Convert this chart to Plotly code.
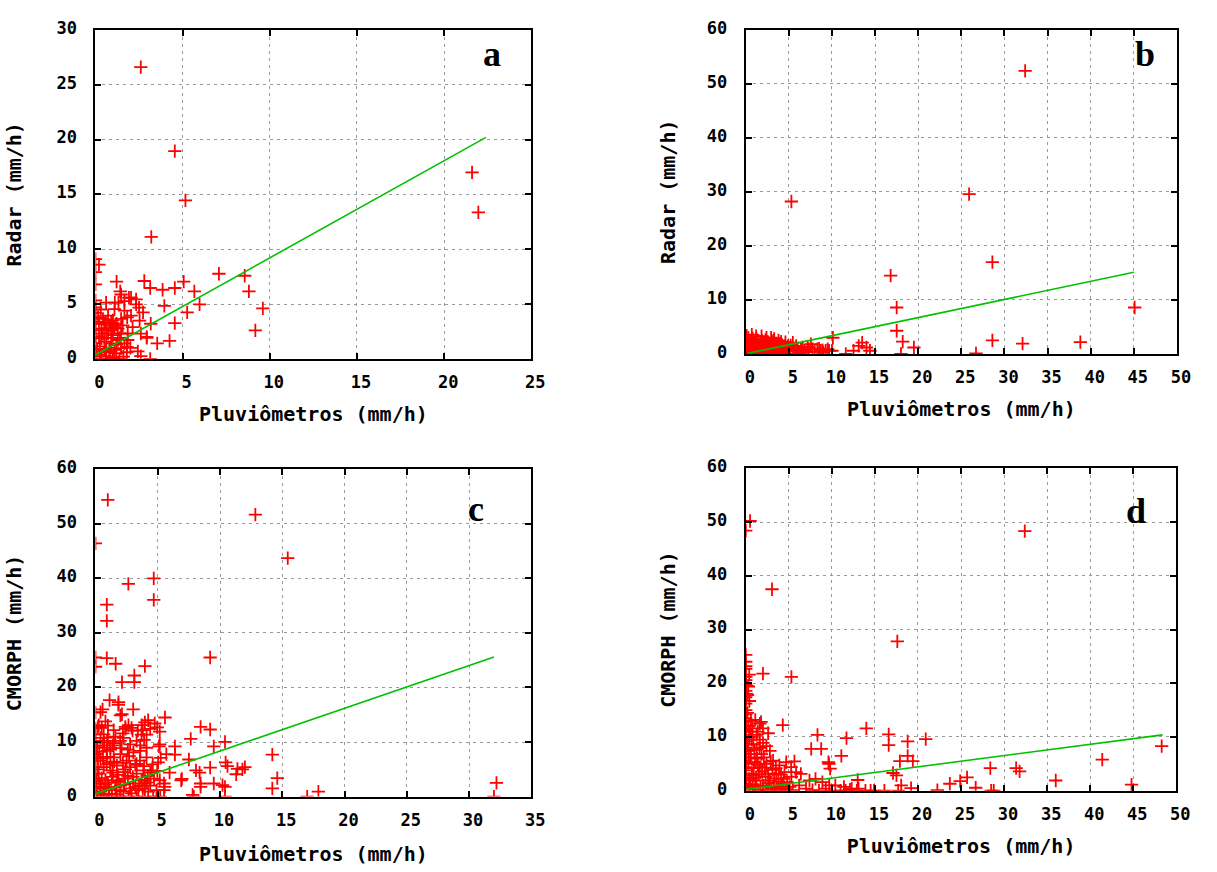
import plotly.graph_objects as go

# ---------------- data ----------------
# Panel a: Radar vs gauges
A_X = [2.6, 4.55, 5.16, 3.2, 21.6, 21.96, 0.2, 0.0, 7.08, 8.56, 8.8, 9.6, 9.17, 2.8, 3.14, 3.85, 4.55, 5.06,
       5.67, 5.97, 5.26, 3.95, 4.55, 4.25, 3.54, 2.94, 2.43, 3.14, 1.21, 1.42, 1.92, 2.33, 1.32, 0.61, 1.11,
       2.73, 2.33, 1.82, 2.53, 2.94,
       0.0, 0.0, 0.0, 0.0, 0.0, 0.0, 1.47, 1.66, 2.04, 2.5, 3.17, 2.6, 2.6, 1.09, 1.66, 2.04, 1.47, 1.0,
       0.81, 1.09, 1.28, 0.62, 0.34, 0.72, 1.0, 1.47, 1.85, 0.34, 0.62, 0.9, 1.28, 1.66, 0.25, 0.53, 0.81,
       1.09, 1.47, 0.25, 0.62, 1.0, 1.38, 0.34, 0.81, 1.09, 0.0, 0.0, 0.15, 0.43, 0.72, 1.85, 2.13, 1.56,
       0.0, 0.3, 0.5, 0.9, 1.2, 0.2, 0.5, 0.8, 1.2, 0.1, 1.8, 1.6, 2.0,
       0.0, 0.0, 0.0, 0.3, 0.6, 1.2, 1.8, 0.4, 1.4, 0.9, 0.2, 0.6]
A_Y = [26.6, 18.95, 14.45, 11.13, 17.0, 13.36, 8.6, 9.1, 7.76, 7.58, 6.16, 4.6, 2.6, 7.1, 6.46, 6.3, 6.46, 7.05,
       6.16, 4.97, 4.23, 4.83, 3.26, 1.63, 1.42, 1.92, 0.68, 0.0, 7.05, 6.16, 5.57, 5.42, 5.12, 5.12, 5.12,
       4.23, 4.97, 3.79, 3.49, 2.01,
       6.8, 5.33, 3.2, 2.76, 2.07, 1.42, 5.87, 5.27, 5.57, 4.68, 3.2, 2.3, 0.24, 4.53, 4.39, 3.94, 3.64, 3.5,
       3.05, 2.9, 2.76, 2.76, 2.61, 2.31, 2.16, 2.31, 2.31, 1.87, 1.57, 1.42, 1.72, 1.42, 1.13, 0.83, 0.68,
       0.83, 0.98, 0.39, 0.24, 0.1, 0.0, 0.0, 0.0, 0.0, 0.68, 0.4, 3.8, 3.64, 3.94, 1.72, 2.9, 3.05,
       4.2, 4.5, 3.2, 3.3, 3.2, 2.0, 1.9, 1.0, 1.3, 0.9, 0.6, 0.2, 1.0,
       7.9, 4.7, 3.7, 0.2, 0.6, 0.5, 1.1, 2.3, 1.9, 2.6, 3.4, 3.3]

# Panel b: Radar vs gauges
B_X = [32.4, 5.29, 25.9, 28.6, 16.8, 17.5, 17.5, 18.2, 18.0, 19.5, 10.1, 26.7, 28.6, 32.1, 38.8, 45.1,
       11.6, 12.5, 13.1, 13.5, 14.0, 14.4,
       0.3, 1.26, 2.4, 3.17, 1.45, 0.1, 2.8, 3.55, 4.3, 5.46, 5.84, 6.6, 7.18, 7.75, 8.3, 8.9, 9.27, 9.66,
       7.0, 6.2, 5.1, 3.9, 2.0, 0.9, 0.5, 1.64, 2.8, 3.74, 4.5, 5.65, 0.0, 0.0, 0.0, 2.4, 1.07, 1.83, 0.7,
       2.94, 3.93, 4.9, 7.56, 8.7, 10.0, 0.0, 1.0, 2.2, 3.4, 4.8, 6.0, 0.6, 1.9, 4.6, 3.0, 6.4, 5.0,
       0.2, 0.4, 0.6, 0.8, 1.1, 1.3, 1.5, 1.7, 1.9, 2.1, 2.3, 2.5, 2.7, 3.1, 3.3, 3.6, 3.8, 4.0, 4.2, 4.4,
       4.7, 5.2, 5.5, 6.0, 6.8, 7.3, 8.0, 8.5, 9.0, 9.5, 0.3, 0.8, 1.2, 2.0, 2.6, 3.3, 0.1, 1.6, 0.5, 4.1]
B_Y = [52.35, 28.2, 29.55, 17.0, 14.5, 8.6, 4.3, 2.3, 0.0, 1.2, 3.0, 0.1, 2.5, 1.9, 2.2, 8.6,
       0.0, 0.6, 1.5, 2.1, 1.2, 0.6,
       3.0, 2.7, 3.0, 2.4, 1.5, 1.2, 1.5, 1.8, 1.2, 2.1, 1.5, 1.2, 1.3, 0.9, 0.9, 0.7, 0.6, 0.6,
       0.3, 0.3, 0.6, 0.5, 0.6, 0.9, 0.3, 0.3, 0.3, 0.9, 0.3, 0.9, 0.6, 1.5, 2.7, 1.8, 2.1, 3.3, 3.6,
       3.0, 1.9, 1.5, 1.8, 0.6, 0.6, 2.4, 0.0, 0.0, 0.0, 0.0, 0.0, 1.9, 2.4, 2.2, 1.0, 0.8, 1.1,
       0.2, 1.0, 2.2, 0.5, 1.3, 0.4, 2.4, 0.9, 1.6, 0.2, 2.6, 1.1, 0.7, 1.9, 0.6, 1.3, 2.5, 0.8, 1.7, 0.4,
       1.0, 1.6, 0.5, 1.0, 0.6, 0.9, 0.4, 1.0, 0.3, 0.9, 2.0, 2.9, 3.3, 2.0, 2.2, 2.8, 3.4, 1.1, 1.5, 2.3]

# Panel c: CMORPH vs gauges
C_X = [0.99, 12.84, 15.44, 0.0, 2.64, 4.68, 4.68, 0.91, 0.91, 9.21, 0.91, 1.62, 0.0, 0.0, 3.97, 3.12, 3.12,
       2.13, 1.13, 1.84, 2.13, 3.03, 0.0, 0.57, 5.58, 3.97, 4.39, 4.96, 2.41, 2.98, 3.4, 8.44, 9.21, 7.65,
       10.4, 9.5, 5.1, 6.38, 6.38, 5.24, 7.5, 8.36, 9.21, 10.6, 11.3, 11.8, 12.0, 14.2, 14.6, 14.2, 17.9,
       17.0, 32.2, 32.0, 7.9, 8.44, 8.44, 9.5, 10.2, 10.4, 10.4, 6.94, 5.5, 5.5, 4.96, 5.95, 3.97, 3.97,
       1.85, 2.0, 0.4, 0.0, 0.26, 0.66, 1.46, 2.65, 3.7, 4.23, 4.76, 5.16, 3.7, 1.98, 2.78, 4.1, 5.16, 1.19,
       8.07, 10.45, 11.4, 6.88, 5.56, 4.5, 5.16, 7.8,
       0.13, 0.13, 0.4, 0.93, 1.46, 2.0, 2.5, 3.04, 3.57, 4.1, 0.66, 1.19, 1.72, 2.25, 2.78, 3.3, 3.84,
       0.26, 0.8, 1.32, 1.85, 2.38, 3.04, 3.7, 0.4, 1.06, 1.59, 2.25, 2.78, 3.44, 4.23, 4.9, 0.13, 0.66,
       1.32, 1.98, 2.65, 3.3, 3.97, 4.63, 0.0, 0.0, 0.0, 0.0, 0.0, 0.0, 0.0, 0.0, 0.0, 0.0, 0.4, 0.93,
       2.25, 3.3, 4.1, 5.03, 5.69, 0.5, 1.0, 1.6, 2.6, 3.6, 1.2, 0.3, 2.0, 4.4, 1.7, 0.9, 3.2, 4.6, 0.2,
       0.7, 2.2, 3.9, 5.2, 0.5, 2.4, 1.4, 0.8, 2.9, 3.8,
       0.3, 0.6, 0.9, 1.2, 1.5, 1.8, 2.1, 2.4, 2.7, 3.0, 3.3, 3.6, 3.9, 4.2, 0.2, 0.5, 0.8, 1.1, 1.4, 1.7,
       2.0, 2.3, 2.6, 2.9, 3.2, 3.5, 3.8, 4.1, 4.4, 4.7, 0.4, 0.7, 1.0, 1.3, 0.1, 0.2, 0.6, 1.0, 1.5, 2.2]
C_Y = [54.4, 51.7, 43.7, 46.4, 39.0, 40.0, 36.05, 35.2, 32.2, 25.5, 25.4, 24.35, 25.5, 23.8, 23.9, 22.2, 21.0,
       21.0, 17.7, 16.8, 15.1, 16.0, 15.4, 16.0, 14.5, 13.6, 12.4, 12.7, 12.4, 12.1, 12.1, 12.8, 12.3, 10.6,
       10.05, 9.2, 9.2, 9.2, 7.7, 7.1, 6.8, 4.4, 5.3, 5.6, 4.1, 5.0, 5.4, 7.7, 3.4, 1.5, 0.9,
       0.0, 2.5, 0.0, 0.0, 2.4, 1.8, 2.4, 2.1, 1.8, 0.0, 3.25, 2.4, 1.2, 4.7, 4.4, 2.4, 3.0,
       17.3, 14.9, 15.5, 12.5, 13.1, 11.4, 12.2, 13.1, 13.1, 14.0, 13.4, 11.9, 11.35, 10.2, 9.56, 8.96, 9.56,
       8.96, 4.8, 6.27, 5.1, 3.0, 1.8, 4.8, 3.0, 0.3,
       9.0, 7.8, 6.6, 8.4, 7.2, 7.8, 6.6, 8.1, 6.6, 7.2, 5.4, 4.8, 5.7, 4.5, 5.4, 4.2, 4.8,
       4.2, 3.0, 3.6, 2.7, 3.3, 2.4, 3.0, 1.8, 1.2, 1.8, 0.9, 1.5, 1.2, 0.9, 1.2, 0.6, 0.3,
       0.0, 0.0, 0.0, 0.0, 0.0, 0.0, 11.4, 10.2, 9.0, 7.8, 6.6, 5.4, 4.2, 3.0, 1.8, 0.6, 10.75, 10.2,
       10.75, 10.2, 11.35, 6.27, 7.77, 12.6, 13.0, 11.0, 8.6, 9.4, 6.2, 2.4, 2.0, 2.0, 0.4, 7.3, 5.8, 5.9, 12.8,
       9.9, 6.2, 10.4, 0.0, 0.0, 12.8, 9.4, 13.8, 12.6, 12.2,
       8.2, 7.0, 5.9, 8.6, 6.4, 4.0, 8.9, 5.0, 7.4, 3.6, 6.0, 8.4, 5.6, 3.8, 5.0, 3.4, 2.2, 1.6, 4.4, 3.0,
       1.2, 2.2, 3.8, 0.6, 1.8, 2.0, 1.4, 2.6, 4.4, 3.3, 0.9, 1.5, 2.5, 0.5, 2.8, 7.1, 9.4, 10.8, 9.8, 11.6]

# Panel d: CMORPH vs gauges
D_X = [32.4, 0.5, 0.0, 3.05, 17.6, 2.0, 5.3, 0.0, 0.0, 0.0, 0.0, 0.3, 0.42, 4.3, 1.78, 14.0, 8.33, 11.7,
       16.6, 16.6, 18.8, 20.9, 18.8, 17.9, 19.4, 17.1, 17.5, 18.05, 19.2, 16.1, 17.7, 22.25, 23.7, 24.9,
       25.7, 26.7, 28.5, 28.8, 28.4, 31.4, 31.8, 36.0, 41.4, 44.8, 48.3, 11.1, 9.6, 9.8, 7.6, 8.76, 13.0,
       14.5, 14.9,
       0.1, 0.1, 0.0, 0.0, 0.0, 0.0, 1.64, 2.0, 2.6, 1.26, 1.64, 2.0, 2.4, 2.8, 1.83, 0.88, 1.26, 0.5,
       1.07, 1.64, 2.4, 3.17, 3.9, 4.7, 5.27, 5.84, 4.5, 3.55, 5.65, 9.66, 6.4, 7.4, 8.1, 8.9, 9.7, 10.4,
       11.4, 12.3, 13.1, 6.2, 7.0, 7.75, 8.5, 9.3, 10.0, 11.0, 11.6, 12.1, 12.9, 13.9, 0.0, 0.0, 0.0, 0.0,
       0.0, 0.7, 1.26, 2.0, 2.8, 3.55, 4.3, 5.1, 0.5, 1.45, 2.4, 3.9, 5.46, 0.0, 0.0, 0.0, 0.0, 0.4, 0.8,
       0.3, 0.9, 0.4, 1.5, 2.3, 3.1, 1.1, 3.0, 4.6, 0.2, 0.6, 1.2,
       0.0, 0.0, 0.0, 0.0, 0.0, 0.0, 0.0, 0.0, 0.0, 0.0, 0.0, 0.0, 0.0, 0.0, 0.2, 0.3, 0.6, 0.7, 0.9, 1.0,
       1.3, 1.4, 1.6, 1.9, 2.1, 2.2, 2.6, 2.9, 3.3, 3.5, 3.8, 4.1, 4.4, 4.8, 5.3, 0.3, 0.8, 1.7, 2.6, 3.3,
       4.1, 0.5, 1.1, 0.3, 1.4, 0.2, 0.4]
D_Y = [48.3, 50.2, 48.4, 37.5, 27.8, 21.8, 21.2, 25.3, 22.7, 21.2, 20.6, 19.4, 16.7, 12.2, 12.8, 11.6, 10.4, 9.8,
       10.5, 8.5, 9.2, 9.6, 6.5, 5.5, 5.5, 3.3, 2.85, 1.0, 0.5, 0.0, 0.0, 0.1, 1.3, 1.8,
       2.5, 0.55, 0.0, 0.0, 4.2, 4.2, 3.6, 1.9, 5.8, 1.15, 8.3, 6.5, 5.3, 4.1, 7.8, 7.8, 2.0,
       0.0, 0.0,
       19.5, 18.0, 13.5, 12.8, 12.2, 11.3, 12.5, 11.6, 10.7, 10.4, 9.5, 8.9, 8.3, 7.4, 6.8, 8.6, 7.7, 6.2,
       5.3, 4.4, 5.0, 5.6, 4.7, 5.3, 4.4, 3.45, 3.45, 3.15, 5.45, 5.0, 3.15, 1.9, 2.2, 1.6, 1.0, 1.0,
       0.7, 0.4, 0.4, 1.0, 0.4, 0.1, 0.0, 0.4, 0.0, 0.0, 0.0, 0.2, 0.0, 0.0, 5.0, 3.8, 2.5, 1.3,
       0.4, 3.15, 1.9, 1.0, 1.9, 0.7, 1.3, 0.7, 0.7, 0.1, 0.1, 0.1, 0.1, 9.2, 8.0, 6.8, 5.6, 10.0, 11.6,
       7.4, 4.2, 2.2, 3.0, 2.6, 3.9, 0.9, 0.4, 0.3, 14.5, 13.0, 2.4,
       24.0, 23.2, 19.8, 18.6, 17.4, 16.2, 15.0, 14.2, 10.4, 7.4, 4.4, 3.2, 1.9, 0.9, 8.7, 5.2, 6.8, 9.5, 2.8, 7.6,
       6.0, 4.8, 8.0, 3.6, 6.2, 4.3, 3.2, 5.4, 2.3, 4.2, 1.7, 3.0, 2.2, 1.6, 2.6, 0.3, 1.2, 0.6, 1.4, 0.8,
       0.5, 11.0, 13.2, 12.0, 11.0, 17.8, 21.6]

# Fitted lines (end points)
FIT_A_X = [0.0, 22.4]
FIT_A_Y = [0.35, 20.2]
FIT_B_X = [0.3, 45.0]
FIT_B_Y = [0.15, 15.1]
FIT_C_X = [0.0, 32.0]
FIT_C_Y = [0.5, 25.6]
FIT_D_X = [0.0, 48.4]
FIT_D_Y = [0.25, 10.4]

X_TITLE = "Pluviômetros (mm/h)"
Y_TITLES = ["Radar (mm/h)", "Radar (mm/h)", "CMORPH (mm/h)", "CMORPH (mm/h)"]
PANEL_LABELS = ["a", "b", "c", "d"]
X_RANGES = [[0, 25], [0, 50], [0, 35], [0, 50]]
Y_RANGES = [[0, 30], [0, 60], [0, 60], [0, 60]]
X_DTICK = [5, 5, 5, 5]
Y_DTICK = [5, 10, 10, 10]

# ---------------- layout geometry ----------------
W, H = 1217, 872
X_DOMAINS = [[0.0786, 0.4412], [0.6196, 0.9783], [0.0786, 0.4412], [0.6196, 0.9778]]
Y_DOMAINS = [[0.5929, 0.9790], [0.5986, 0.9794], [0.0791, 0.4633], [0.0860, 0.4644]]
LABEL_POS = [(0.4088, 0.9507), (0.9519, 0.9507), (0.3952, 0.4163), (0.9441, 0.4140)]
X_TITLE_STANDOFF = [16, 16, 18, 16]
Y_TITLE_STANDOFF = [30, 26, 30, 26]

MONO = "DejaVu Sans Mono"
SERIF = "Liberation Serif"
RED = "#ff0000"
GREEN = "#00c000"

scatter_data = [(A_X, A_Y), (B_X, B_Y), (C_X, C_Y), (D_X, D_Y)]
fit_data = [(FIT_A_X, FIT_A_Y), (FIT_B_X, FIT_B_Y), (FIT_C_X, FIT_C_Y), (FIT_D_X, FIT_D_Y)]

fig = go.Figure()
for i in range(4):
    xa = "x" if i == 0 else f"x{i+1}"
    ya = "y" if i == 0 else f"y{i+1}"
    xs, ys = scatter_data[i]
    fig.add_trace(go.Scatter(
        x=xs, y=ys, mode="markers", xaxis=xa, yaxis=ya, showlegend=False,
        marker=dict(symbol="cross-thin", size=9.5, color=RED,
                    line=dict(color=RED, width=1.8)),
    ))
    fx, fy = fit_data[i]
    fig.add_trace(go.Scatter(
        x=fx, y=fy, mode="lines", xaxis=xa, yaxis=ya, showlegend=False,
        line=dict(color=GREEN, width=1.6),
    ))

common = dict(
    showline=True, linecolor="black", linewidth=2, mirror="allticks",
    ticks="inside", ticklen=6, tickwidth=1.5, tickcolor="black",
    showgrid=True, gridcolor="#9a9a9a", gridwidth=1, griddash="3px,4px",
    zeroline=False, tick0=0,
    tickfont=dict(family=MONO, size=17, color="black", weight="bold"),
)

for i in range(4):
    xkey = "xaxis" if i == 0 else f"xaxis{i+1}"
    ykey = "yaxis" if i == 0 else f"yaxis{i+1}"
    xa = "x" if i == 0 else f"x{i+1}"
    ya = "y" if i == 0 else f"y{i+1}"
    fig.layout[xkey] = dict(
        common, domain=X_DOMAINS[i], anchor=ya, range=X_RANGES[i], dtick=X_DTICK[i],
        ticklabelstandoff=7, ticklabelshift=4,
        title=dict(text=X_TITLE, standoff=X_TITLE_STANDOFF[i],
                   font=dict(family=MONO, size=20, color="black", weight="bold")),
    )
    fig.layout[ykey] = dict(
        common, domain=Y_DOMAINS[i], anchor=xa, range=Y_RANGES[i], dtick=Y_DTICK[i],
        ticklabelstandoff=13, ticklabelshift=-2,
        title=dict(text=Y_TITLES[i], standoff=Y_TITLE_STANDOFF[i],
                   font=dict(family=MONO, size=20, color="black", weight="bold")),
    )

annotations = []
for (lx, ly), lab in zip(LABEL_POS, PANEL_LABELS):
    annotations.append(dict(
        text=lab, x=lx, y=ly, xref="paper", yref="paper", showarrow=False,
        xanchor="center", yanchor="middle",
        font=dict(family=SERIF, size=36, color="black", weight="bold"),
    ))

fig.update_layout(
    width=W, height=H, autosize=False,
    margin=dict(l=0, r=0, t=0, b=0),
    paper_bgcolor="white", plot_bgcolor="white",
    annotations=annotations,
)

fig.write_html("out.html", config={"displayModeBar": False},
               post_script="document.body.style.margin='0';document.body.style.overflow='hidden';")
